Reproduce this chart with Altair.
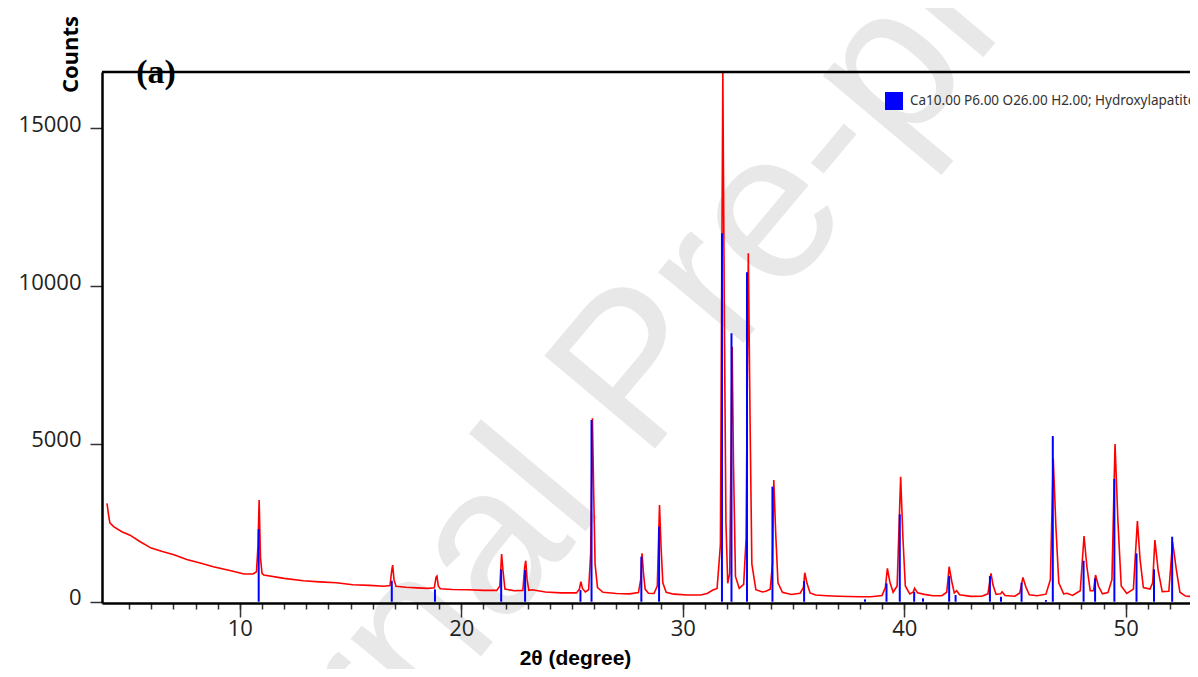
import altair as alt
import pandas as pd

# ---- data ----
TWO_THETA = [4.00, 4.07, 4.13, 4.30, 4.67, 5.04, 5.50, 6.00, 6.50, 7.06, 7.60, 8.25, 8.80, 9.50,
             10.19, 10.60, 10.75, 10.82, 10.87, 10.93, 11.00, 11.08, 12.00, 12.87, 13.60, 14.35,
             15.10, 15.86, 16.50, 16.78, 16.86, 16.90, 16.96, 17.05, 17.50, 18.00, 18.50, 18.78,
             18.86, 18.90, 18.96, 19.05, 19.60, 20.30, 21.00, 21.60, 21.74, 21.82, 21.88, 21.97,
             22.40, 22.78, 22.86, 22.91, 22.97, 23.05, 23.20, 23.80, 24.50, 25.20, 25.33, 25.40,
             25.47, 25.60, 25.75, 25.84, 25.92, 25.98, 26.04, 26.15, 26.40, 27.00, 27.60, 28.00,
             28.10, 28.16, 28.22, 28.30, 28.45, 28.70, 28.85, 28.95, 29.02, 29.10, 29.25, 29.60,
             30.20, 30.80, 31.10, 31.36, 31.55, 31.70, 31.81, 31.88, 31.95, 32.03, 32.12, 32.23,
             32.29, 32.38, 32.55, 32.75, 32.86, 32.96, 33.04, 33.12, 33.30, 33.60, 33.75, 33.95,
             34.05, 34.11, 34.20, 34.30, 34.50, 34.90, 35.30, 35.45, 35.51, 35.61, 35.75, 36.00,
             36.50, 37.00, 37.50, 38.00, 38.50, 39.00, 39.15, 39.24, 39.35, 39.50, 39.68, 39.84,
             39.94, 40.05, 40.25, 40.40, 40.47, 40.60, 40.91, 41.30, 41.70, 41.92, 42.03, 42.15,
             42.26, 42.37, 42.50, 43.00, 43.50, 43.78, 43.92, 44.01, 44.15, 44.35, 44.42, 44.55,
             45.00, 45.22, 45.36, 45.50, 45.65, 46.00, 46.40, 46.60, 46.73, 46.85, 46.98, 47.20,
             47.36, 47.60, 47.95, 48.12, 48.25, 48.40, 48.55, 48.64, 48.77, 48.95, 49.20, 49.38,
             49.52, 49.65, 49.80, 50.05, 50.35, 50.53, 50.65, 50.80, 51.10, 51.22, 51.32, 51.47,
             51.65, 51.95, 52.12, 52.28, 52.45, 52.70, 53.10]
COUNTS = [3120, 2750, 2500, 2380, 2220, 2110, 1900, 1700, 1590, 1480, 1340, 1220, 1110, 1000,
          880, 880, 950, 1800, 3220, 1400, 900, 846, 740, 666, 630, 600,
          540, 520, 490, 510, 1000, 1160, 700, 490, 460, 440, 425, 440,
          780, 813, 500, 410, 390, 380, 360, 360, 500, 1512, 1000, 400,
          350, 360, 1100, 1300, 700, 360, 380, 310, 280, 280, 400, 634,
          420, 310, 380, 1500, 5812, 3380, 1200, 450, 300, 260, 250, 290,
          700, 1533, 950, 400, 270, 260, 500, 3064, 1743, 600, 300, 240,
          212, 215, 260, 370, 420, 1800, 16786, 8750, 2500, 583, 900, 8080,
          4385, 800, 425, 550, 2000, 11040, 5704, 1200, 380, 310, 330, 400,
          1200, 3856, 2114, 600, 300, 230, 270, 450, 919, 583, 280, 212,
          190, 175, 165, 160, 160, 200, 450, 1058, 634, 300, 500, 3961,
          2060, 500, 250, 300, 425, 280, 234, 190, 190, 300, 1109, 634,
          280, 349, 220, 170, 175, 250, 898, 529, 230, 250, 317, 200,
          175, 280, 771, 456, 220, 190, 240, 700, 4543, 2377, 600, 250,
          270, 200, 350, 2082, 1109, 350, 350, 846, 497, 250, 290, 700,
          4997, 2567, 500, 260, 400, 2557, 1352, 450, 400, 600, 1955, 982,
          320, 330, 1901, 1058, 300, 180, 160]

REF_POS = [10.85, 16.86, 18.81, 21.80, 22.88, 25.38, 25.88, 28.13, 28.93, 31.77, 32.20, 32.90,
           34.05, 35.48, 38.23, 39.20, 39.80, 40.45, 40.85, 42.03, 42.32, 43.87, 44.37, 45.30,
           46.40, 46.71, 48.10, 48.62, 49.49, 50.49, 51.28, 52.10]
REF_INT = [2300, 665, 393, 1027, 1004, 370, 5758, 1426, 2377, 11673, 8505, 10438,
           3645, 656, 76, 583, 2770, 317, 108, 814, 212, 814, 158, 602,
           54, 5250, 1300, 740, 3888, 1533, 1027, 2060]

PHASE = "Ca10.00 P6.00 O26.00 H2.00; Hydroxylapatite"
X_TICKS = [10, 20, 30, 40, 50]
X_MINOR = list(range(5, 53))
Y_TICKS = [0, 5000, 10000, 15000]
X_DOMAIN = [4.0, 52.68]
Y_DOMAIN = [-40, 16786]
PANEL_LABEL = ["(a)"]
WATERMARK = ["Journal Pre-proof"]

W, H = 1088, 531

pattern = pd.DataFrame({"tt": TWO_THETA, "counts": COUNTS})
ref = pd.DataFrame({"tt": REF_POS, "inten": REF_INT, "phase": [PHASE] * len(REF_POS)})
minor = pd.DataFrame({"tt": X_MINOR})

xscale = alt.Scale(domain=X_DOMAIN, nice=False, zero=False)
yscale = alt.Scale(domain=Y_DOMAIN, nice=False, zero=False)

x_axis = alt.Axis(values=X_TICKS, orient="bottom", tickSize=14, labelPadding=1, format="d",
                  title="2θ (degree)", titleFont="Liberation Sans", titleFontWeight="bold",
                  titleFontSize=21, titleColor="#000", titleAlign="center",
                  titleBaseline="middle", titleX=473, titleY=55, titleAngle=0, zindex=2)
y_axis = alt.Axis(values=Y_TICKS, tickSize=12, labelPadding=9, labelOffset=-4, format="d",
                  title="Counts", titleFont="Open Sans", titleFontWeight="bold",
                  titleFontSize=22, titleColor="#000", titleAngle=270,
                  titleAlign="center", titleBaseline="middle", titleX=-32, titleY=-18,
                  zindex=2)

water = alt.Chart(pd.DataFrame({"t": WATERMARK})).mark_text(
    angle=310, fontSize=210, font="Liberation Sans", color="#e8e8e8",
    align="center", baseline="middle"
).encode(text="t:N", x=alt.value(535), y=alt.value(300))

line = alt.Chart(pattern).mark_line(color="#ff0000", strokeWidth=1.6, clip=True).encode(
    x=alt.X("tt:Q", scale=xscale, axis=x_axis),
    y=alt.Y("counts:Q", scale=yscale, axis=y_axis),
)

sticks = alt.Chart(ref).mark_bar(size=2, clip=True).encode(
    x=alt.X("tt:Q", scale=xscale, axis=x_axis),
    y=alt.Y("inten:Q", scale=yscale, axis=y_axis),
    color=alt.Color("phase:N", scale=alt.Scale(domain=[PHASE], range=["#0000ff"]),
                    legend=alt.Legend(orient="none", legendX=783, legendY=20, title=None,
                                      symbolType="square", symbolSize=324,
                                      symbolStrokeWidth=0, labelFont="Noto Sans",
                                      labelFontSize=13.5, labelColor="#333",
                                      labelOffset=7, padding=0, labelLimit=600)),
)

border = alt.Chart(pd.DataFrame({"t": [0]})).mark_rule(color="#000", strokeWidth=2.5).encode(
    x=alt.value(0), x2=alt.value(W), y=alt.value(0)
)

label = alt.Chart(pd.DataFrame({"t": PANEL_LABEL})).mark_text(
    font="Liberation Serif", fontWeight="bold", fontSize=34, color="#000",
    align="center", baseline="middle"
).encode(text="t:N", x=alt.value(54), y=alt.value(1))

main = alt.layer(water, line, sticks, border, label)

minor_layer = alt.Chart(minor).mark_point(opacity=0).encode(
    x=alt.X("tt:Q", scale=xscale,
            axis=alt.Axis(values=X_MINOR, orient="bottom", tickSize=6, labels=False,
                          domain=False, title=None, grid=False, zindex=2))
)

chart = alt.layer(minor_layer, main).resolve_axis(x="independent").properties(
    width=W, height=H,
    autosize=alt.AutoSizeParams(type="none"),
    padding={"left": 94, "top": 64, "right": 0, "bottom": 66},
).configure_view(stroke=None).configure_axis(
    grid=False, domainColor="#000", domainWidth=2.5, tickColor="#333", tickWidth=1.5,
    labelFont="Open Sans", labelFontSize=22, labelColor="#222",
)

chart.save("out.html", embed_options={"renderer": "svg", "actions": False})
